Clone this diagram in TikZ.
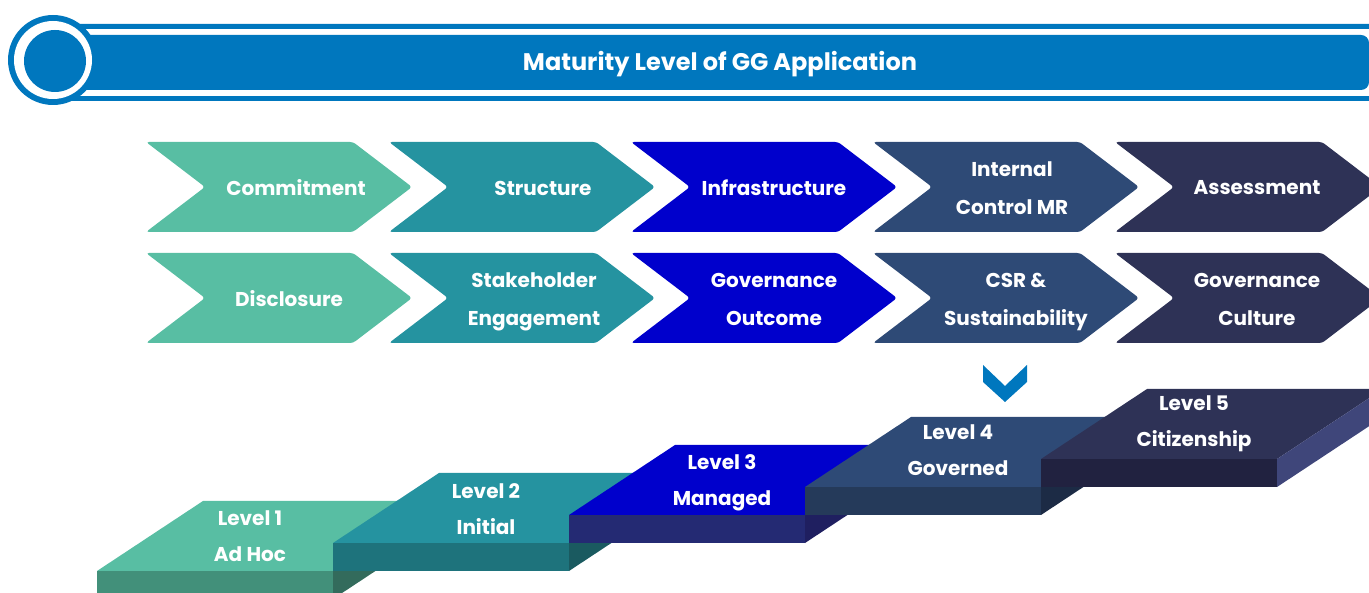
\documentclass[tikz,border=0pt]{standalone}
\usepackage{fontspec}
\usepackage{xcolor}
\usepackage{tikz}
\usetikzlibrary{positioning}
\newfontfamily\popfont{Poppins}

\definecolor{hdrblue}{HTML}{0077BE}
\definecolor{lvlA}{HTML}{58BEA3}
\definecolor{lvlAfront}{HTML}{42907A}
\definecolor{lvlAside}{HTML}{336B5C}
\definecolor{lvlB}{HTML}{2593A0}
\definecolor{lvlBfront}{HTML}{1E737C}
\definecolor{lvlBside}{HTML}{1A5A60}
\definecolor{lvlC}{HTML}{0000CC}
\definecolor{lvlCfront}{HTML}{242A73}
\definecolor{lvlCside}{HTML}{1F1F60}
\definecolor{lvlD}{HTML}{2E4A76}
\definecolor{lvlDfront}{HTML}{253A5A}
\definecolor{lvlDside}{HTML}{1C2B45}
\definecolor{lvlE}{HTML}{2E3256}
\definecolor{lvlEfront}{HTML}{212240}
\definecolor{lvlEside}{HTML}{3F467A}

\begin{document}
\begin{tikzpicture}[x=1pt,y=-1pt,
                    lbl/.style={text=white,align=center,inner sep=0pt,
                    font=\popfont\bfseries\fontsize{20}{38}\selectfont},
                    steplbl/.style={lbl,font=\popfont\bfseries\fontsize{20}{36}\selectfont}]
    \useasboundingbox (0,0) rectangle (1369,593);
    \clip (0,0) rectangle (1369,593);

    % header band
    \fill[hdrblue, rounded corners=6] (60,24) rectangle (1390,101);
    \fill[white] (60,29) rectangle (1390,96);
    \fill[hdrblue, rounded corners=8] (60,35) rectangle (1369,90);
    \fill[hdrblue] (53,60) circle (45);
    \fill[white] (53,60) circle (39);
    \fill[hdrblue] (55,61) circle (31);
    \node[lbl, font=\popfont\bfseries\fontsize{24}{30}\selectfont] (title) at (720,64)
        {Maturity Level of GG Application};

    % chevrons
    \foreach \x/\clr [count=\i] in {146/lvlA,389/lvlB,631/lvlC,873/lvlD,1115/lvlE}
        \foreach \y in {142,253}
            \fill[\clr, rounded corners=3] (\x,\y) -- (\x+207,\y) -- (\x+266,\y+45)
                -- (\x+207,\y+90) -- (\x,\y+90) -- (\x+59,\y+45) -- cycle;
    \node[lbl] (commit) at (296,188) {Commitment};
    \node[lbl] (struct) at (543,188) {Structure};
    \node[lbl] (infra) at (774,188) {Infrastructure};
    \node[lbl] (intctl) at (1012,188) {Internal\\Control MR};
    \node[lbl] (assess) at (1257,188) {Assessment};
    \node[lbl] (disclo) at (289,299) {Disclosure};
    \node[lbl] (stake) at (534,302) {Stakeholder\\Engagement};
    \node[lbl] (govout) at (774,299) {Governance\\Outcome};
    \node[lbl] (csr) at (1016,302) {CSR \&\\Sustainability};
    \node[lbl] (govcul) at (1257,299) {Governance\\Culture};

    % down arrow
    \fill[hdrblue] (983,365) -- (1005,386) -- (1027,365) -- (1027,382)
        -- (1005,402) -- (983,382) -- cycle;

    % steps
    \foreach \x/\t/\clr [count=\i] in {97/571/lvlA,333/543/lvlB,569/515/lvlC,805/487/lvlD,1041/459/lvlE}
    {
        \fill[\clr] (\x,\t) -- (\x+236,\t) -- (\x+342,\t-70) -- (\x+106,\t-70) -- cycle;
        \fill[\clr front] (\x,\t) rectangle (\x+236,\t+28);
        \fill[\clr side] (\x+236,\t) -- (\x+342,\t-70) -- (\x+342,\t-42) -- (\x+236,\t+28) -- cycle;
    }
    \node[steplbl] (lvl1) at (250,536) {Level 1\\Ad Hoc};
    \node[steplbl] (lvl2) at (486,509) {Level 2\\Initial};
    \node[steplbl] (lvl3) at (722,483) {Level 3\\Managed};
    \node[steplbl] (lvl4) at (958,450) {Level 4\\Governed};
    \node[steplbl] (lvl5) at (1194,424) {Level 5\\Citizenship};
\end{tikzpicture}
\end{document}
